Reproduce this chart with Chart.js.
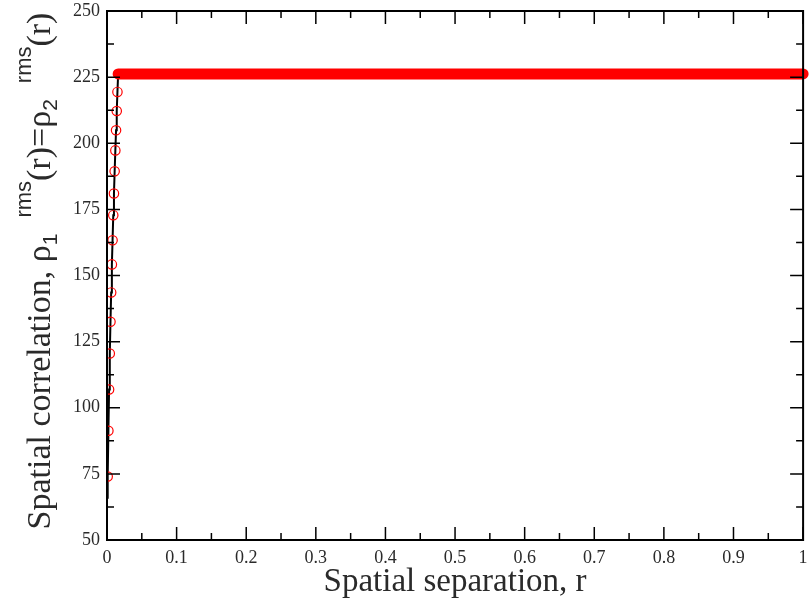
<!DOCTYPE html>
<html>
<head>
<meta charset="utf-8">
<script src="https://cdn.jsdelivr.net/npm/chart.js@4.4.1/dist/chart.umd.min.js"></script>
<style>
    html, body { margin: 0; padding: 0; background: #fff; }
    #wrap { width: 809px; height: 604px; }
</style>
</head>
<body>
<div id="wrap"><canvas id="corrChart"></canvas></div>
<script>
// rising part (open circles)
const riseX = [0.001, 0.002, 0.003, 0.004, 0.005, 0.006, 0.007, 0.008, 0.009, 0.010, 0.011, 0.012, 0.013, 0.014, 0.015];
const riseY = [74, 91.3, 106.9, 120.5, 132.5, 143.6, 154.2, 163.3, 172.8, 181, 189.4, 197.3, 204.9, 212.2, 219.4];
// black line starts a little below the first circle
const lineStartX = 0;
const lineStartY = 66;
// plateau (dense filled circles, drawn as one thick round-capped line)
const plateauX = [0.016, 1];
const plateauY = [226.2, 226.2];

const xTickLabels = ['0', '0.1', '0.2', '0.3', '0.4', '0.5', '0.6', '0.7', '0.8', '0.9', '1'];
const yTickLabels = ['50', '75', '100', '125', '150', '175', '200', '225', '250'];

const xTitle = 'Spatial separation, r';
// [text, style]
const yTitleParts = [
    ['Spatial correlation, ρ', 'main'],
    ['1', 'sub'],
    ['rms', 'sup'],
    ['(r)=ρ', 'main'],
    ['2', 'sub'],
    ['rms', 'sup'],
    ['(r)', 'main']
];

const risePoints = riseX.map((x, i) => ({ x: x, y: riseY[i] }));
const linePoints = [{ x: lineStartX, y: lineStartY }].concat(risePoints, [{ x: plateauX[0], y: plateauY[0] }]);
const plateauPoints = plateauX.map((x, i) => ({ x: x, y: plateauY[i] }));

const textColor = '#2a2a2a';
const serif = '"Liberation Serif", "Times New Roman", serif';
const sans = '"Liberation Sans", Arial, sans-serif';

const framePlugin = {
    id: 'frame',
    afterDatasetsDraw(chart) {
        const { ctx, chartArea: a, scales: { x, y } } = chart;
        ctx.save();
        ctx.strokeStyle = '#000';
        ctx.lineWidth = 2;
        ctx.strokeRect(a.left, a.top, a.right - a.left, a.bottom - a.top);

        ctx.lineWidth = 1.5;
        ctx.beginPath();
        const major = 13, minor = 7;
        x.ticks.forEach((t, i) => {
            const px = x.getPixelForValue(t.value);
            ctx.moveTo(px, a.bottom); ctx.lineTo(px, a.bottom - major);
            ctx.moveTo(px, a.top); ctx.lineTo(px, a.top + major);
            if (i < x.ticks.length - 1) {
                const mx = x.getPixelForValue((t.value + x.ticks[i + 1].value) / 2);
                ctx.moveTo(mx, a.bottom); ctx.lineTo(mx, a.bottom - minor);
                ctx.moveTo(mx, a.top); ctx.lineTo(mx, a.top + minor);
            }
        });
        y.ticks.forEach((t, i) => {
            const py = y.getPixelForValue(t.value);
            ctx.moveTo(a.left, py); ctx.lineTo(a.left + major, py);
            ctx.moveTo(a.right, py); ctx.lineTo(a.right - major, py);
            if (i < y.ticks.length - 1) {
                const my = y.getPixelForValue((t.value + y.ticks[i + 1].value) / 2);
                ctx.moveTo(a.left, my); ctx.lineTo(a.left + minor, my);
                ctx.moveTo(a.right, my); ctx.lineTo(a.right - minor, my);
            }
        });
        ctx.stroke();
        ctx.restore();
    },
    afterDraw(chart) {
        const { ctx, chartArea: a } = chart;
        ctx.save();
        ctx.fillStyle = textColor;

        // x title
        ctx.font = '33px ' + serif;
        ctx.textAlign = 'center';
        ctx.textBaseline = 'alphabetic';
        ctx.fillText(xTitle, (a.left + a.right) / 2, 591);

        // y title with sub/superscripts, rotated
        const styles = {
            main: { font: '34px ' + serif, shift: 0, gap: 0 },
            sub: { font: '21px ' + sans, shift: 7, gap: 16 },
            sup: { font: '22px ' + sans, shift: -19, gap: 0 }
        };
        let total = 0;
        yTitleParts.forEach(p => {
            const s = styles[p[1]];
            ctx.font = s.font;
            total += ctx.measureText(p[0]).width + s.gap;
        });
        ctx.translate(50, 271);
        ctx.rotate(-Math.PI / 2);
        ctx.textAlign = 'left';
        let pos = -total / 2;
        yTitleParts.forEach(p => {
            const s = styles[p[1]];
            ctx.font = s.font;
            ctx.fillText(p[0], pos, s.shift);
            pos += ctx.measureText(p[0]).width + s.gap;
        });
        ctx.restore();
    }
};

new Chart(document.getElementById('corrChart').getContext('2d'), {
    type: 'scatter',
    data: {
        datasets: [{
            data: plateauPoints,
            showLine: true,
            borderColor: '#ff0000',
            borderWidth: 11,
            borderCapStyle: 'round',
            pointRadius: 0,
            clip: false
        }, {
            data: risePoints,
            showLine: false,
            pointRadius: 4.7,
            pointBorderWidth: 1.2,
            pointBorderColor: '#ff0000',
            pointBackgroundColor: 'rgba(0,0,0,0)'
        }, {
            data: linePoints,
            showLine: true,
            borderColor: '#000',
            borderWidth: 2,
            pointRadius: 0
        }]
    },
    options: {
        responsive: true,
        maintainAspectRatio: false,
        animation: false,
        layout: { padding: { top: 11, right: 1, left: 0, bottom: 0 } },
        plugins: { legend: { display: false }, tooltip: { enabled: false } },
        scales: {
            x: {
                type: 'linear',
                min: 0,
                max: 1,
                grid: { display: false, drawTicks: false },
                border: { display: false },
                ticks: {
                    stepSize: 0.1,
                    autoSkip: false,
                    maxRotation: 0,
                    padding: 7,
                    color: textColor,
                    font: { family: serif, size: 18 },
                    callback: (v, i) => xTickLabels[i]
                },
                afterFit(s) { s.height = 64; s.paddingLeft = 0; s.paddingRight = 0; }
            },
            y: {
                min: 50,
                max: 250,
                grid: { display: false, drawTicks: false },
                border: { display: false },
                ticks: {
                    stepSize: 25,
                    padding: 7,
                    color: textColor,
                    font: { family: serif, size: 18 },
                    callback: (v, i) => yTickLabels[i]
                },
                afterFit(s) { s.width = 107; s.paddingTop = 0; s.paddingBottom = 0; }
            }
        }
    },
    plugins: [framePlugin]
});
</script>
</body>
</html>
